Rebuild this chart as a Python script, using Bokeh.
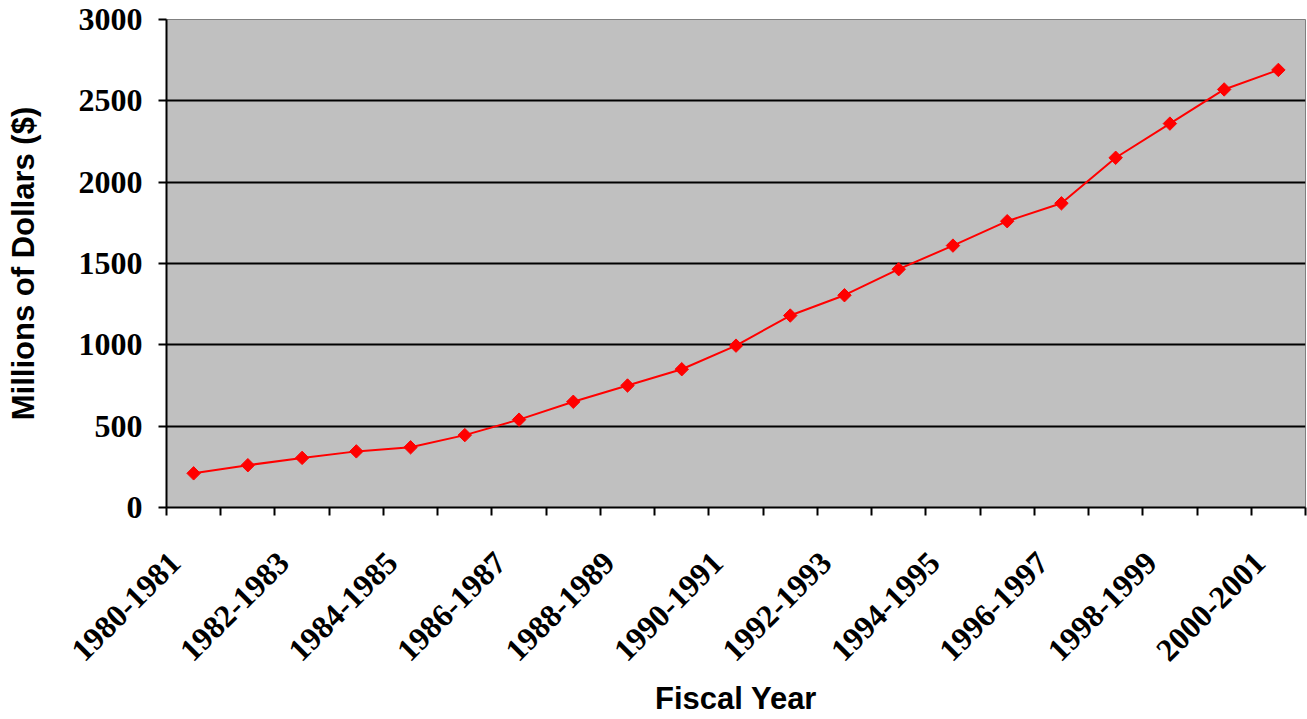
import numpy as np
from bokeh.plotting import figure
from bokeh.models import FixedTicker, LinearAxis, Range1d, ColumnDataSource
from bokeh.embed import file_html
from bokeh.resources import INLINE

years = ["1980-1981", "1981-1982", "1982-1983", "1983-1984", "1984-1985", "1985-1986",
         "1986-1987", "1987-1988", "1988-1989", "1989-1990", "1990-1991", "1991-1992",
         "1992-1993", "1993-1994", "1994-1995", "1995-1996", "1996-1997", "1997-1998",
         "1998-1999", "1999-2000", "2000-2001"]
values = [210, 260, 305, 345, 370, 445, 540, 650, 750, 850, 995, 1180, 1305,
          1465, 1610, 1760, 1870, 2150, 2360, 2570, 2690]
y_ticks = [0, 500, 1000, 1500, 2000, 2500, 3000]

xpos = [i + 0.5 for i in range(len(years))]
src = ColumnDataSource(dict(x=xpos, y=values))

p = figure(width=1307, height=719, output_backend="svg", toolbar_location=None,
           x_range=Range1d(0, len(years)), y_range=Range1d(0, 3000),
           min_border_left=166, min_border_right=2, min_border_top=19,
           min_border_bottom=10)
p.border_fill_color = "white"
p.outline_line_color = "#808080"
p.outline_line_width = 1
p.background_fill_color = "#C0C0C0"

# y axis
p.yaxis.ticker = FixedTicker(ticks=y_ticks)
p.yaxis.axis_line_color = "black"
p.yaxis.axis_line_width = 2
p.yaxis.major_tick_out = 8
p.yaxis.major_tick_in = 0
p.yaxis.major_tick_line_width = 2
p.yaxis.minor_tick_line_color = None
p.yaxis.major_label_text_font = "Liberation Serif"
p.yaxis.major_label_text_font_style = "bold"
p.yaxis.major_label_text_font_size = "32px"
p.yaxis.major_label_text_color = "black"
p.yaxis.major_label_standoff = 16
p.yaxis.axis_label = "Millions of Dollars ($)"
p.yaxis.axis_label_text_font = "Liberation Sans"
p.yaxis.axis_label_text_font_style = "bold"
p.yaxis.axis_label_text_font_size = "31px"
p.yaxis.axis_label_text_color = "black"
p.yaxis.axis_label_standoff = 35

# grid
p.xgrid.grid_line_color = None
p.ygrid.ticker = FixedTicker(ticks=y_ticks[1:-1])
p.ygrid.grid_line_color = "black"
p.ygrid.grid_line_width = 2

# x axis: tick marks at category boundaries
p.xaxis.ticker = FixedTicker(ticks=list(range(len(years) + 1)))
p.xaxis.major_label_overrides = {i: "" for i in range(len(years) + 1)}
p.xaxis.major_label_text_font_size = "1px"
p.xaxis.major_label_standoff = 0
p.xaxis.axis_line_color = "black"
p.xaxis.axis_line_width = 2
p.xaxis.major_tick_out = 8
p.xaxis.major_tick_in = 0
p.xaxis.major_tick_line_width = 2
p.xaxis.minor_tick_line_color = None

# x axis labels at every other category
label_idx = list(range(0, len(years), 2))
shift = -0.34
label_pos = [xpos[i] + shift for i in label_idx]
ax2 = LinearAxis(ticker=FixedTicker(ticks=label_pos))
ax2.major_label_overrides = {xpos[i] + shift: years[i] for i in label_idx}
ax2.axis_line_color = None
ax2.major_tick_line_color = None
ax2.minor_tick_line_color = None
ax2.major_tick_out = 0
ax2.major_tick_in = 0
ax2.major_label_orientation = np.pi / 4
ax2.major_label_text_font = "Liberation Serif"
ax2.major_label_text_font_style = "bold"
ax2.major_label_text_font_size = "32px"
ax2.major_label_text_color = "black"
ax2.major_label_standoff = 42
ax2.axis_label = "Fiscal Year"
ax2.axis_label_text_font = "Liberation Sans"
ax2.axis_label_text_font_style = "bold"
ax2.axis_label_text_font_size = "31px"
ax2.axis_label_text_color = "black"
ax2.axis_label_standoff = 8
p.add_layout(ax2, "below")

p.line("x", "y", source=src, line_color="#FF0000", line_width=2)
p.scatter("x", "y", source=src, marker="square", angle=np.pi / 4, size=9.5,
          fill_color="#FF0000", line_color="#FF0000")

open("out.html", "w").write(file_html(p, INLINE))
